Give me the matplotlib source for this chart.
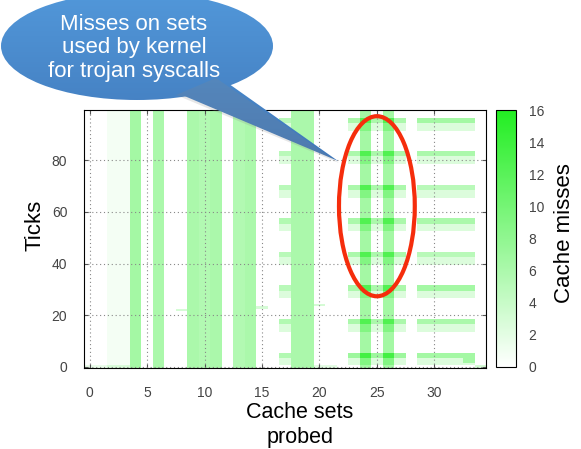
import numpy as np
import matplotlib.pyplot as plt
from matplotlib.colors import LinearSegmentedColormap
from matplotlib.patches import Ellipse, Polygon

plt.rcParams['font.family'] = ['Liberation Sans', 'DejaVu Sans']

n_sets = 35
n_ticks = 100

# background miss level of each probed set (vertical bands)
column_level = [0, 0, 0.8, 0.8, 6.5, 0, 6, 0, 0, 6, 5.5, 6, 0, 5.5, 6, 0, 0, 0, 6, 6,
                0, 0, 0, 0, 6.5, 0, 6.5, 0, 0, 0, 0, 0, 0, 0, 0]

# periodic stripes from the trojan syscalls: top tick of each stripe
stripe_top = [96, 83, 70, 57, 44, 31, 18, 5]
stripe_sets_mid = [17]
stripe_sets_left = [23, 24, 25, 26, 27]
stripe_sets_right = [29, 30, 31, 32, 33]
stripe_peak_mid = [5, 5, 5, 5.5, 5, 5, 5.5, 5.5]
stripe_peak_left = [6, 6, 6, 6, 6, 6, 6, 7]
stripe_peak_right = [6.5, 6, 5, 6, 5, 6.5, 6, 6.5]
stripe_tail = 2.5

# isolated misses: set, tick, count
spot_set = [8, 15, 20, 0, 1, 2, 3, 20, 21, 34, 33, 33]
spot_tick = [22, 23, 24, 0, 0, 0, 0, 0, 0, 0, 2, 3]
spot_val = [3, 3, 3, 1.5, 1.5, 2, 2, 2, 2, 3, 4, 4]

xticks = [0, 5, 10, 15, 20, 25, 30]
yticks = [0, 20, 40, 60, 80]
cbar_ticks = [0, 2, 4, 6, 8, 10, 12, 14, 16]

misses = np.zeros((n_ticks, n_sets))
for s in range(n_sets):
    misses[:, s] += column_level[s]
for sets, peaks in ((stripe_sets_mid, stripe_peak_mid),
                    (stripe_sets_left, stripe_peak_left),
                    (stripe_sets_right, stripe_peak_right)):
    for top, peak in zip(stripe_top, peaks):
        for s in sets:
            misses[top - 1:top + 1, s] += peak
            misses[max(top - 4, 0):top - 1, s] += stripe_tail
for s, t, v in zip(spot_set, spot_tick, spot_val):
    misses[t, s] += v
misses = np.clip(misses, 0, 16)

W, H = 581, 449
fig = plt.figure(figsize=(W / 100, H / 100), dpi=100)


def fx(px):
    return px / W


def fy(py):
    return 1 - py / H


ax = fig.add_axes([fx(84), fy(368), fx(486) - fx(84), fy(110) - fy(368)])
cax = fig.add_axes([fx(496), fy(367), fx(516) - fx(496), fy(110) - fy(367)])

cmap = LinearSegmentedColormap.from_list('misses', ['white', '#22ee22'])
im = ax.imshow(misses, origin='lower', aspect='auto', cmap=cmap, vmin=0, vmax=16,
               interpolation='nearest', extent=(-0.5, n_sets - 0.5, -0.5, n_ticks - 0.5))

ax.set_xticks(xticks)
ax.set_yticks(yticks)
ax.tick_params(direction='in', length=3, top=True, right=True, labelsize=10,
               labelcolor='#444444', color='#555555')
ax.tick_params(axis='x', pad=13)
ax.tick_params(axis='y', pad=12)
ax.grid(True, color='#888888', linestyle=(0, (1, 2.5)), linewidth=0.8)
for sp in ax.spines.values():
    sp.set_linewidth(0.8)

# red ring around the kernel sets
ax.add_patch(Ellipse((25, 62.2), 6.6, 69.8, fill=False, edgecolor='#f52d0c',
                     linewidth=3, zorder=4, clip_on=False))

cb = fig.colorbar(im, cax=cax, ticks=cbar_ticks)
cb.outline.set_linewidth(0.8)
cax.tick_params(length=0, pad=9, labelsize=10, labelcolor='#444444')

fig.text(fx(300), fy(425), 'Cache sets\nprobed', ha='center', va='center',
         fontsize=15.5, linespacing=1.2)
fig.text(fx(35), fy(225), 'Ticks', ha='center', va='center', rotation=90, fontsize=16)
fig.text(fx(565), fy(233), 'Cache misses', ha='center', va='center', rotation=90, fontsize=16)

# speech bubble overlay, drawn in pixel coordinates
ov = fig.add_axes([0, 0, 1, 1], zorder=10)
ov.patch.set_visible(False)
ov.axis('off')

bubble = Ellipse((137, 46), 272, 108, facecolor='none', edgecolor='none')
tail = Polygon([(175, 92), (215, 74), (338, 161)], closed=True,
               facecolor='none', edgecolor='none')
shadow = Polygon([(176, 95), (216, 78), (339, 163)], closed=True,
                 facecolor='#888888', edgecolor='none', alpha=0.2)
ov.add_patch(shadow)
ov.add_patch(bubble)
ov.add_patch(tail)

bubble_cmap = LinearSegmentedColormap.from_list('bubble', ['#5298da', '#3f76b8'])
grad = np.linspace(0, 1, 256).reshape(-1, 1)
for shape in (bubble, tail):
    g = ov.imshow(grad, extent=(0, 345, 165, -10), cmap=bubble_cmap, aspect='auto')
    g.set_clip_path(shape)

ov.text(134, 48, 'Misses on sets\nused by kernel\nfor trojan syscalls', color='white',
        fontsize=16, ha='center', va='center', linespacing=1.15)

ov.set_xlim(0, W)
ov.set_ylim(H, 0)

plt.savefig('out.png', dpi=100)
plt.close()
